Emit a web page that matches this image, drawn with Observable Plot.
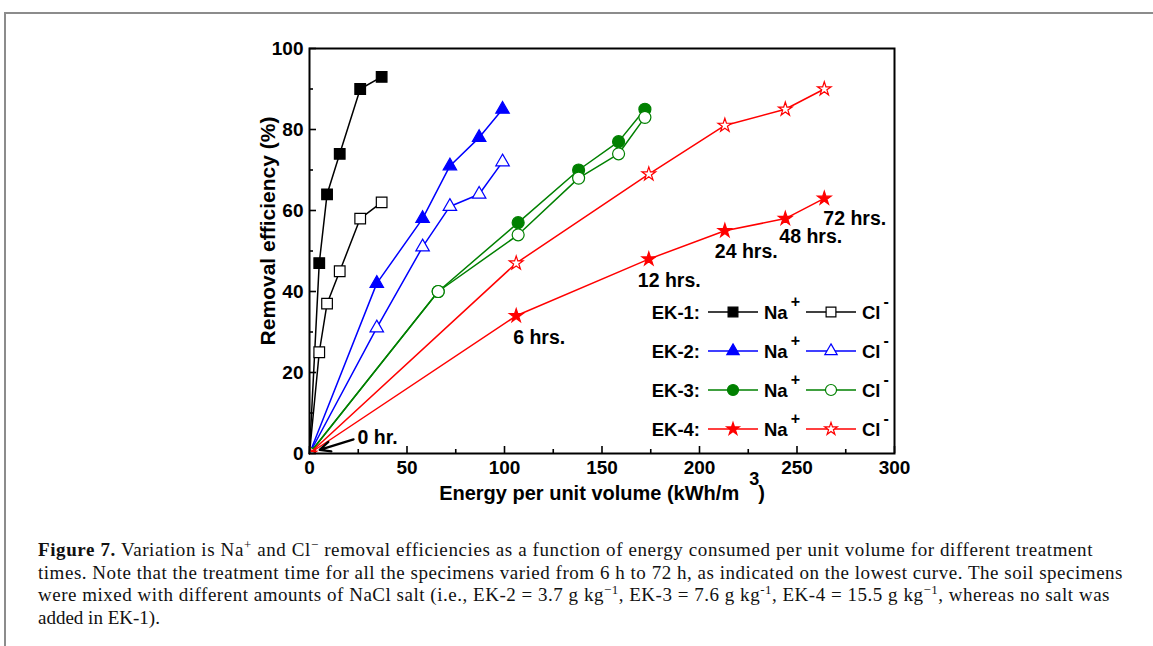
<!DOCTYPE html>
<html><head><meta charset="utf-8">
<script src="https://cdn.jsdelivr.net/npm/d3@7"></script>
<script src="https://cdn.jsdelivr.net/npm/@observablehq/plot@0.6"></script>
<style>
body{margin:0;background:#fff;}
#page{position:relative;width:1153px;height:646px;overflow:hidden;background:#fff;}
#border{position:absolute;left:4px;top:12px;width:1160px;height:700px;border-top:2px solid #8c8c8c;border-left:2px solid #8c8c8c;}
#chart{position:absolute;left:0;top:0;}
#legend{position:absolute;left:640px;top:290px;overflow:visible;font-family:"Liberation Sans",Arial,sans-serif;font-weight:bold;font-size:18.5px;}
#caption{position:absolute;left:38px;top:539px;font-family:"Liberation Serif",Times,serif;font-size:19px;line-height:22.6px;color:#111;}
#caption .ln{display:block;white-space:nowrap;}
#caption .ln span.in{display:inline-block;}
#caption sup{font-size:68%;line-height:0;vertical-align:0.55em;}
</style></head><body>
<div id="page">
<div id="border"></div>
<div id="chart"></div>
<svg id="legend" width="270" height="160"></svg>
<div id="caption">
<div class="ln"><span class="in"><b>Figure 7.</b> Variation is Na<sup>+</sup> and Cl<sup>−</sup> removal efficiencies as a function of energy consumed per unit volume for different treatment</span></div>
<div class="ln"><span class="in">times. Note that the treatment time for all the specimens varied from 6 h to 72 h, as indicated on the lowest curve. The soil specimens</span></div>
<div class="ln"><span class="in">were mixed with different amounts of NaCl salt (i.e., EK-2 = 3.7 g kg<sup>−1</sup>, EK-3 = 7.6 g kg<sup>-1</sup>, EK-4 = 15.5 g kg<sup>−1</sup>, whereas no salt was</span></div>
<div class="ln"><span class="in">added in EK-1).</span></div>
</div>
</div>
<script>
// ---- data ----
const ek1Energy = [0, 5, 9, 15.5, 26, 37];
const ek1Na = [0, 47, 64, 74, 90, 93];
const ek1Cl = [0, 25, 37, 45, 58, 62];
const ek2Energy = [0, 34.5, 58, 72, 87, 99];
const ek2Na = [0, 42, 58, 71, 78, 85];
const ek2Cl = [0, 31, 51, 61, 64, 72];
const ek3Energy = [0, 66, 107, 138, 158.5, 172];
const ek3Na = [0, 40, 57, 70, 77, 85];
const ek3Cl = [0, 40, 54, 68, 74, 83];
const ek4Energy = [0, 106, 174, 213, 244, 264];
const ek4Na = [0, 34, 48, 55, 58, 63];
const ek4Cl = [0, 47, 69, 81, 85, 90];
const hourLabels = ["0 hr.", "6 hrs.", "12 hrs.", "24 hrs.", "48 hrs.", "72 hrs."];
const specimens = ["EK-1", "EK-2", "EK-3", "EK-4"];
const ionLabels = ["Na", "Cl"];
const ionCharges = ["+", "-"];
const xTicks = [0, 50, 100, 150, 200, 250, 300];
const xMinorTicks = [25, 75, 125, 175, 225, 275];
const yTicks = [0, 20, 40, 60, 80, 100];
const yMinorTicks = [10, 30, 50, 70, 90];
const xTitle = "Energy per unit volume (kWh/m";
const xTitleSup = "3";
const yTitle = "Removal efficiency (%)";

// ---- styling ----
const styles = [
  {color: "#000000", symbol: "square", r: 6},
  {color: "#0000ff", symbol: "triangle", r: 5},
  {color: "#008000", symbol: "circle", r: 6},
  {color: "#ff0000", symbol: "star", r: 4.3}
];
const energies = [ek1Energy, ek2Energy, ek3Energy, ek4Energy];
const naValues = [ek1Na, ek2Na, ek3Na, ek4Na];
const clValues = [ek1Cl, ek2Cl, ek3Cl, ek4Cl];

const marks = [];
specimens.forEach((name, s) => {
  const st = styles[s];
  [[naValues[s], true], [clValues[s], false]].forEach(([vals, filled]) => {
    const pts = energies[s].map((e, i) => ({x: e, y: vals[i]}));
    marks.push(Plot.line(pts, {x: "x", y: "y", stroke: st.color, strokeWidth: 1.5}));
    marks.push(Plot.dot(pts, {x: "x", y: "y", symbol: st.symbol, r: st.r,
      fill: filled ? st.color : "white", stroke: st.color, strokeWidth: 1.2, clip: true}));
  });
});

// hour annotations on the lowest curve (EK-4 Na+)
const hourOffsets = [[48, -16], [-3, 22], [-11, 22], [-10, 21], [-6, 18], [-1, 20]];
hourLabels.forEach((lab, i) => {
  marks.push(Plot.text([{x: ek4Energy[i], y: ek4Na[i], t: lab}], {
    x: "x", y: "y", text: "t", textAnchor: "start", dx: hourOffsets[i][0], dy: hourOffsets[i][1],
    fontSize: 19.5, fontWeight: "bold", fill: "black"
  }));
});
marks.push(Plot.arrow([0], {x1: 22.6, y1: 3.5, x2: 5.2, y2: 0.9, stroke: "black", strokeWidth: 2.2, headLength: 9, headAngle: 50}));

const chart = Plot.plot({
  width: 1153, height: 520,
  marginLeft: 309, marginRight: 259, marginTop: 48, marginBottom: 67,
  x: {domain: [0, 300]},
  y: {domain: [0, 100]},
  style: {fontFamily: "'Liberation Sans', Arial, sans-serif", fontSize: "19px", fontWeight: "bold", color: "black", background: "none", overflow: "visible"},
  marks: [
    ...marks,
    Plot.frame({stroke: "black", strokeWidth: 2}),
    Plot.axisX({ticks: xTicks, tickSize: -7, tickPadding: 14, tickFormat: d => String(d), label: null, strokeWidth: 1.6, fontSize: 19}),
    Plot.axisX({ticks: xMinorTicks, tickSize: -4, tickFormat: () => "", label: null, strokeWidth: 1.6}),
    Plot.axisY({ticks: yTicks, tickSize: -7, tickPadding: 13, tickFormat: d => String(d), label: null, strokeWidth: 1.6, fontSize: 19}),
    Plot.axisY({ticks: yMinorTicks, tickSize: -4, tickFormat: () => "", label: null, strokeWidth: 1.6}),
    Plot.text([xTitle], {frameAnchor: "bottom", textAnchor: "middle", dy: 46, fontSize: 20, fontWeight: "bold"}),
    Plot.text([yTitle], {frameAnchor: "left", textAnchor: "middle", rotate: -90, dx: -41, dy: -20, fontSize: 21, fontWeight: "bold"})
  ]
});
document.getElementById("chart").appendChild(chart);

// superscript in x title
d3.select(chart).selectAll("text").filter(function () { return this.textContent === xTitle; }).each(function () {
  const xt = d3.select(this);
  xt.text(null);
  xt.append("tspan").text(xTitle);
  xt.append("tspan").attr("dx", 10).attr("dy", -15).attr("font-size", 18).text(xTitleSup);
  xt.append("tspan").attr("dx", -1).attr("dy", 15).text(")");
});

// legend
const symbolTypes = {square: d3.symbolSquare, triangle: d3.symbolTriangle, circle: d3.symbolCircle, star: d3.symbolStar};
const leg = d3.select("#legend");
specimens.forEach((name, i) => {
  const st = styles[i];
  const cy = 22 + 39 * i;
  leg.append("text").attr("x", 60).attr("y", cy).attr("dy", "0.36em").attr("text-anchor", "end").text(name + ":");
  const segs = [[68, 118, 124, true], [166, 216, 222, false]];
  segs.forEach(([a, b, tx, filled], k) => {
    leg.append("line").attr("x1", a).attr("x2", b).attr("y1", cy).attr("y2", cy).attr("stroke", st.color).attr("stroke-width", 1.5);
    const rr = st.r * 0.92;
    leg.append("path").attr("d", d3.symbol(symbolTypes[st.symbol], Math.PI * rr * rr)())
      .attr("transform", `translate(${(a + b) / 2},${cy})`)
      .attr("fill", filled ? st.color : "white").attr("stroke", st.color).attr("stroke-width", 1.2);
    const t = leg.append("text").attr("x", tx).attr("y", cy).attr("dy", "0.36em");
    t.append("tspan").text(ionLabels[k]);
    t.append("tspan").attr("dx", 3).attr("dy", -12).attr("font-size", 16).text(ionCharges[k]);
  });
});

// fit caption line widths to the reference
const targets = [1055, 1085, 1072, null];
document.querySelectorAll("#caption .in").forEach((el, i) => {
  if (!targets[i]) return;
  const w = el.getBoundingClientRect().width;
  const n = el.textContent.length;
  el.style.letterSpacing = ((targets[i] - w) / n).toFixed(3) + "px";
});
</script>
</body></html>
